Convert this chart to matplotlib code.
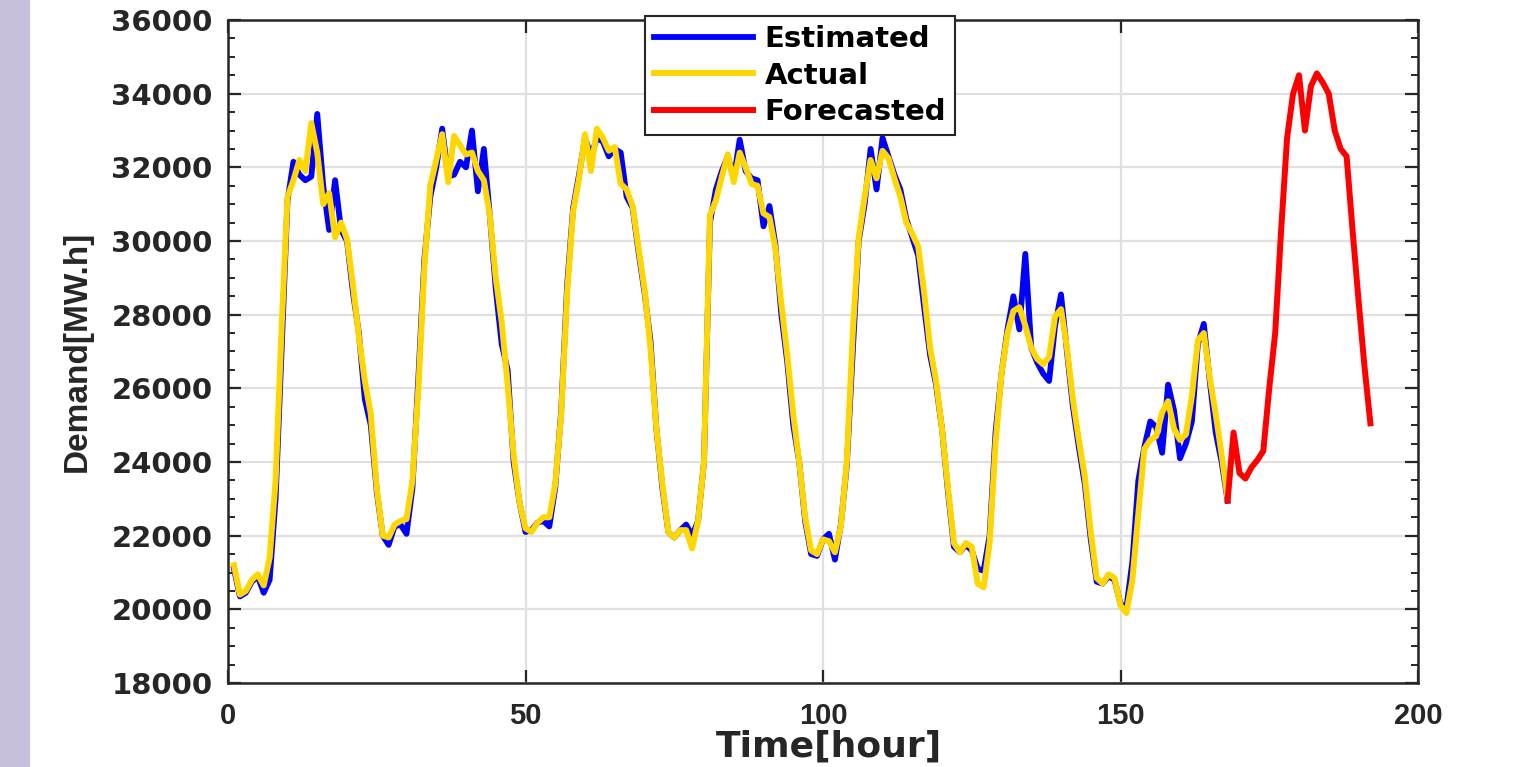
import numpy as np
import matplotlib
matplotlib.use('Agg')
import matplotlib.pyplot as plt
from matplotlib.ticker import MultipleLocator

# hourly demand, hours 1..168 (actual / estimated) and 168..192 (forecast)
actual = [21200, 20400, 20500, 20800, 20950, 20650, 21400, 23500, 27600, 31200,
          31650, 32200, 31900, 33200, 32400, 31000, 31300, 30100, 30500, 30050,
          28800, 27400, 26200, 25300, 23300, 22000, 21950, 22300, 22400, 22450,
          23500, 26000, 29300, 31500, 32200, 32900, 31600, 32850, 32600, 32350,
          32400, 31900, 31650, 30700, 29000, 27800, 26100, 24200, 22900, 22200,
          22100, 22350, 22500, 22500, 23400, 25300, 28600, 30800, 31700, 32900,
          31900, 33050, 32800, 32450, 32550, 31550, 31400, 30950, 29800, 28700,
          27100, 24900, 23400, 22100, 21950, 22150, 22150, 21650, 22400, 24000,
          30700, 31100, 31750, 32350, 31600, 32400, 32000, 31550, 31500, 30750,
          30650, 29800, 28300, 26900, 25300, 24000, 22500, 21600, 21500, 21900,
          21850, 21550, 22250, 24000, 27500, 30100, 31200, 32200, 31700, 32450,
          32250, 31700, 31200, 30500, 30200, 29850, 28600, 27100, 26200, 24900,
          23300, 21800, 21550, 21800, 21700, 20700, 20600, 21800, 24500, 26400,
          27500, 28100, 28200, 27700, 27100, 26800, 26650, 26850, 27950, 28150,
          27100, 25700, 24600, 23600, 22100, 20850, 20700, 20950, 20850, 20100,
          19900, 20800, 22600, 24350, 24600, 24700, 25350, 25650, 24900, 24600,
          24750, 25800, 27300, 27500, 26300, 25300, 24200, 23000]

estimated = [21100, 20350, 20450, 20750, 20900, 20450, 20800, 23000, 27000, 31100,
             32150, 31800, 31650, 31750, 33450, 31500, 30300, 31650, 30300, 30000,
             28600, 27500, 25700, 25000, 23200, 22000, 21750, 22250, 22300, 22050,
             23300, 26300, 29500, 31200, 32000, 33050, 31750, 31800, 32150, 32000,
             33000, 31350, 32500, 30700, 28700, 27200, 26500, 24000, 22900, 22100,
             22150, 22350, 22400, 22250, 23300, 25400, 28800, 30900, 31800, 32800,
             32300, 32800, 32700, 32300, 32500, 32400, 31200, 30900, 29700, 28600,
             27300, 24900, 23300, 22100, 21950, 22150, 22300, 22000, 22400, 24000,
             30500, 31400, 31900, 32300, 31700, 32750, 31900, 31700, 31650, 30400,
             30950, 29900, 28000, 26700, 25000, 24000, 22400, 21500, 21450, 21900,
             22050, 21350, 22300, 23900, 27000, 30000, 31000, 32500, 31400, 32800,
             32300, 31800, 31400, 30600, 30100, 29600, 28200, 26900, 26100, 24900,
             23200, 21700, 21550, 21750, 21600, 21100, 21050, 22000, 24800, 26400,
             27600, 28500, 27600, 29650, 27100, 26700, 26400, 26200, 27700, 28550,
             27000, 25500, 24400, 23400, 21900, 20750, 20700, 20900, 20800, 20150,
             20050, 21300, 23500, 24400, 25100, 24950, 24250, 26100, 25400, 24100,
             24500, 25100, 27200, 27750, 26200, 24800, 24000, 22950]

forecast = [22950, 24800, 23700, 23550, 23850, 24050, 24300, 26000, 27500, 30300,
            32800, 34000, 34500, 33000, 34200, 34550, 34300, 34000, 33000, 32500,
            32300, 30300, 28400, 26600, 25050]

hours = np.arange(1, len(actual) + 1)
hours_fc = np.arange(168, 168 + len(forecast))

fig = plt.figure(figsize=(15.27, 7.67), dpi=100)
fig.patch.set_facecolor('white')
# purple strip on the left edge
fig.patches.append(plt.Rectangle((0, 0), 30 / 1527., 1, transform=fig.transFigure,
                                 facecolor='#c8bfdb', edgecolor='none', zorder=0))

ax = fig.add_axes([228 / 1527., 1 - 683 / 767., 1190 / 1527., 663 / 767.])

ax.plot(hours, estimated, color='#0000ff', lw=4.2, label='Estimated', solid_joinstyle='round')
ax.plot(hours, actual, color='#ffd700', lw=4.3, label='Actual', solid_joinstyle='round')
ax.plot(hours_fc, forecast, color='#ff0000', lw=4.3, label='Forecasted', solid_joinstyle='round')

ax.set_xlim(0, 200)
ax.set_ylim(18000, 36000)
ax.xaxis.set_major_locator(MultipleLocator(50))
ax.yaxis.set_major_locator(MultipleLocator(2000))
ax.yaxis.set_minor_locator(MultipleLocator(500))

ax.grid(True, which='major', color='#e0e0e0', lw=1.6)
ax.set_axisbelow(True)

for s in ax.spines.values():
    s.set_color('#262626')
    s.set_linewidth(1.8)

ax.tick_params(axis='both', which='major', direction='in', length=9.5, width=1.6,
               color='#262626', top=True, right=True)
ax.tick_params(axis='y', which='minor', direction='in', length=5, width=1.4,
               color='#262626', left=True, right=True)
ax.tick_params(axis='y', which='major', pad=11)
ax.tick_params(axis='x', which='major', pad=14)

for lab in ax.get_yticklabels():
    lab.set_fontfamily('DejaVu Sans')
    lab.set_fontweight('bold')
    lab.set_fontsize(21)
    lab.set_color('#262626')
for lab in ax.get_xticklabels():
    lab.set_fontfamily(['Liberation Sans Narrow', 'Liberation Sans'])
    lab.set_fontweight('bold')
    lab.set_fontsize(21)
    lab.set_color('#262626')

ax.set_ylabel('Demand[MW.h]', fontsize=24, fontweight='bold', color='#262626',
              family=['Liberation Sans Narrow', 'Liberation Sans'])
ax.yaxis.set_label_coords(-0.114, 0.5)
ax.set_xlabel('Time[hour]', fontsize=26, fontweight='bold', color='#262626',
              family='DejaVu Sans')
ax.xaxis.set_label_coords(0.505, -0.07)

leg = ax.legend(loc='upper left', bbox_to_anchor=(645 / 1527., 1 - 16 / 767.),
                bbox_transform=fig.transFigure, fancybox=False, framealpha=1,
                edgecolor='#262626', handlelength=3.4, handletextpad=0.4,
                labelspacing=0.3, borderpad=0.3, borderaxespad=0,
                prop={'family': 'DejaVu Sans', 'weight': 'bold', 'size': 21})
leg.get_frame().set_linewidth(1.5)

fig.savefig('out.png', dpi=100)
